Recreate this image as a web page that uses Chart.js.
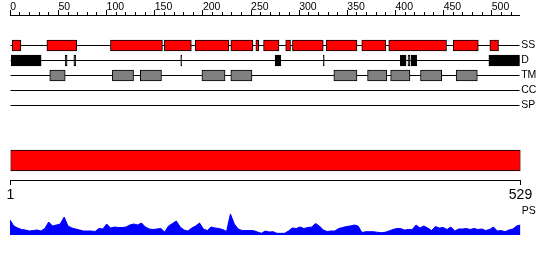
<!DOCTYPE html>
<html>
<head>
<meta charset="utf-8">
<script src="https://cdn.jsdelivr.net/npm/chart.js@4.4.1/dist/chart.umd.min.js"></script>
<style>
  html, body { margin: 0; padding: 0; background: #fff; }
  #wrap { position: relative; width: 550px; height: 260px; overflow: hidden; }
  canvas { position: absolute; left: 0; }
</style>
</head>
<body>
<div id="wrap">
  <canvas id="tracks" width="550" height="115" style="top:0px"></canvas>
  <canvas id="domain" width="550" height="65" style="top:140px"></canvas>
  <canvas id="ps" width="550" height="40" style="top:200px"></canvas>
</div>
<script>
/* ================= DATA ================= */

const SEQ_LEN = 529;
const TRACKS = ["SS", "D", "TM", "CC", "SP"];

// feature ranges, [start, end] in residues
const SS_RANGES = [[2,11],[38,69],[104,158],[160,188],[192,227],[229,252],[255,258],[263,279],
                   [286,291],[293,325],[328,360],[365,390],[393,453],[460,486],[498,507]];
const D_RANGES  = [[1,32],[57,59],[66,68],[177,178],[275,281],[325,326],[405,411],[413,415],
                   [416,422],[497,529]];
const TM_RANGES = [[41,57],[106,128],[135,157],[199,223],[229,251],[336,360],[371,391],[395,415],
                   [426,448],[463,485]];
const CC_RANGES = [];
const SP_RANGES = [];

const DOMAIN_RANGES = [[1, 529]];
const DOMAIN_TICKS = [1, 529];

// PS profile, one value every PS_STEP residues starting at residue 1
const PS_STEP = 4;
const PS_VALUES = [
  15, 9, 7, 5.5, 5, 4, 4.5, 5, 4, 6.5,
  13, 9, 10, 11, 18, 9, 7, 6, 5, 4,
  4, 4, 3.5, 6.5, 6, 11, 7, 8, 7.5, 7.5,
  8, 10, 11, 10, 12, 8, 6, 5.5, 6, 6.5,
  3, 9, 11.5, 14, 8, 5, 4, 7, 9, 12,
  6, 4.5, 8, 7, 6.5, 5.5, 3.5, 21, 11, 6,
  4.5, 4.5, 4.5, 4.3, 3, 1.7, 4, 3, 3.3,
  1.7, 1.7, 1.7, 4, 7, 6.5, 8, 6.5, 7.5, 8,
  11.5, 9, 5, 3.5, 4, 4, 6.5, 7.5, 8.5, 9,
  10, 9, 2.5, 3.3, 3.3, 3.3, 2.7, 2.3, 2.7, 4,
  5.5, 6.5, 6.5, 5, 5.5, 5.5, 10, 7, 9, 7,
  4.5, 8.5, 7, 7.5, 5.5, 8, 4, 6, 6, 6.5,
  5.5, 6.5, 5.5, 6, 4.5, 5.5, 8, 4, 4.5, 3.3,
  5, 6, 9, 10
];

/* ================= SETUP ================= */

const FONT = "'Liberation Sans', Arial, sans-serif";
Chart.defaults.font.family = FONT;
Chart.defaults.color = "#000";
Chart.defaults.animation = false;
Chart.defaults.events = [];
Chart.defaults.plugins.legend.display = false;
Chart.defaults.plugins.tooltip.enabled = false;

function trackY(i) { return 30.5 + i * 15; }

function noPad(s) {
  s.paddingLeft = 0; s.paddingRight = 0; s.paddingTop = 0; s.paddingBottom = 0;
}

/* ================= FEATURE TRACKS ================= */

const featureSets = [SS_RANGES, D_RANGES, TM_RANGES, CC_RANGES, SP_RANGES];
const featureColors = ["#ff0000", "#000000", "#808080", "#ffffff", "#ffffff"];

const trackLines = TRACKS.map((t, i) => ({
  type: "line",
  data: [{ x: 0, y: trackY(i) }, { x: SEQ_LEN, y: trackY(i) }],
  borderColor: "#000",
  borderWidth: 1,
  pointRadius: 0,
  order: 2
}));

const trackBoxes = TRACKS.map((t, i) => ({
  type: "bar",
  data: featureSets[i].map(([a, b]) => ({ x: [a, b], y: trackY(i) })),
  backgroundColor: featureColors[i],
  borderColor: "#000",
  borderWidth: 1,
  borderSkipped: false,
  barThickness: 11,
  grouped: false,
  order: 1
}));

new Chart(document.getElementById("tracks"), {
  type: "bar",
  data: { datasets: [...trackLines, ...trackBoxes] },
  options: {
    responsive: false,
    indexAxis: "y",
    layout: { padding: { left: 10.3, right: 0, top: 0, bottom: 3 } },
    scales: {
      x: {
        type: "linear", position: "top", min: 0, max: SEQ_LEN, weight: 0,
        ticks: { display: false, stepSize: 10, includeBounds: false },
        grid: { drawOnChartArea: false, tickLength: 3, tickColor: "#000", color: "#000" },
        border: { display: true, color: "#000", width: 1 },
        afterFit: noPad
      },
      xMajor: {
        type: "linear", axis: "x", position: "top", min: 0, max: SEQ_LEN, weight: 1,
        ticks: {
          stepSize: 50, includeBounds: false, align: "start", padding: -2,
          autoSkip: false, maxRotation: 0, color: "#000",
          font: { size: 10.5, lineHeight: 1 }
        },
        grid: { drawOnChartArea: false, tickLength: 2, tickColor: "#000" },
        border: { display: false },
        afterFit: s => { noPad(s); s.height = 12; }
      },
      y: {
        type: "linear", position: "right", reverse: true, min: 0, max: 97,
        offset: false,
        afterBuildTicks: s => { s.ticks = TRACKS.map((t, i) => ({ value: trackY(i) })); },
        ticks: {
          callback: (v, i) => TRACKS[i], padding: 1.5, autoSkip: false,
          color: "#000", font: { size: 10.5, lineHeight: 1 }
        },
        grid: { display: false, drawTicks: false, offset: false },
        border: { display: false },
        afterFit: s => { noPad(s); s.width = 30.3; }
      }
    }
  }
});

/* ================= DOMAIN BAR ================= */

new Chart(document.getElementById("domain"), {
  type: "bar",
  data: {
    datasets: [{
      data: DOMAIN_RANGES.map(([a, b]) => ({ x: [a, b], y: 20.5 })),
      backgroundColor: "#ff0000",
      borderColor: "#000",
      borderWidth: 1,
      borderSkipped: false,
      barThickness: 21,
      grouped: false
    }]
  },
  options: {
    responsive: false,
    indexAxis: "y",
    layout: { padding: { left: 10.5, right: 29.5, top: 0, bottom: 0 } },
    scales: {
      x: {
        type: "linear", position: "bottom", min: 1, max: SEQ_LEN,
        afterBuildTicks: s => { s.ticks = DOMAIN_TICKS.map(v => ({ value: v })); },
        ticks: {
          padding: 3, autoSkip: false, maxRotation: 0, color: "#000",
          font: { size: 14, lineHeight: 1 }
        },
        grid: { drawOnChartArea: false, tickLength: 5, tickColor: "#000" },
        border: { color: "#000", width: 1 },
        afterFit: s => { noPad(s); s.height = 25; }
      },
      y: {
        type: "linear", display: false, reverse: true, min: 0, max: 40,
        offset: false, grid: { offset: false }
      }
    }
  }
});

/* ================= PS PROFILE ================= */

new Chart(document.getElementById("ps"), {
  type: "line",
  data: {
    datasets: [{
      data: PS_VALUES.map((v, i) => ({ x: 1 + i * PS_STEP, y: v })),
      fill: "origin",
      backgroundColor: "#0000ff",
      borderColor: "#0000ff",
      borderWidth: 1,
      pointRadius: 0,
      tension: 0
    }]
  },
  options: {
    responsive: false,
    layout: { padding: { left: 10, right: 0, top: 10, bottom: 5 } },
    scales: {
      x: { type: "linear", display: false, min: 1, max: SEQ_LEN },
      y: {
        type: "linear", position: "right", min: 0, max: 25,
        afterBuildTicks: s => { s.ticks = [{ value: 24 }]; },
        ticks: {
          callback: () => "PS", padding: 1.2, autoSkip: false,
          color: "#000", font: { size: 10.5, lineHeight: 1 }
        },
        grid: { display: false, drawTicks: false },
        border: { display: false },
        afterFit: s => { noPad(s); s.width = 29.5; }
      }
    }
  }
});
</script>
</body>
</html>
